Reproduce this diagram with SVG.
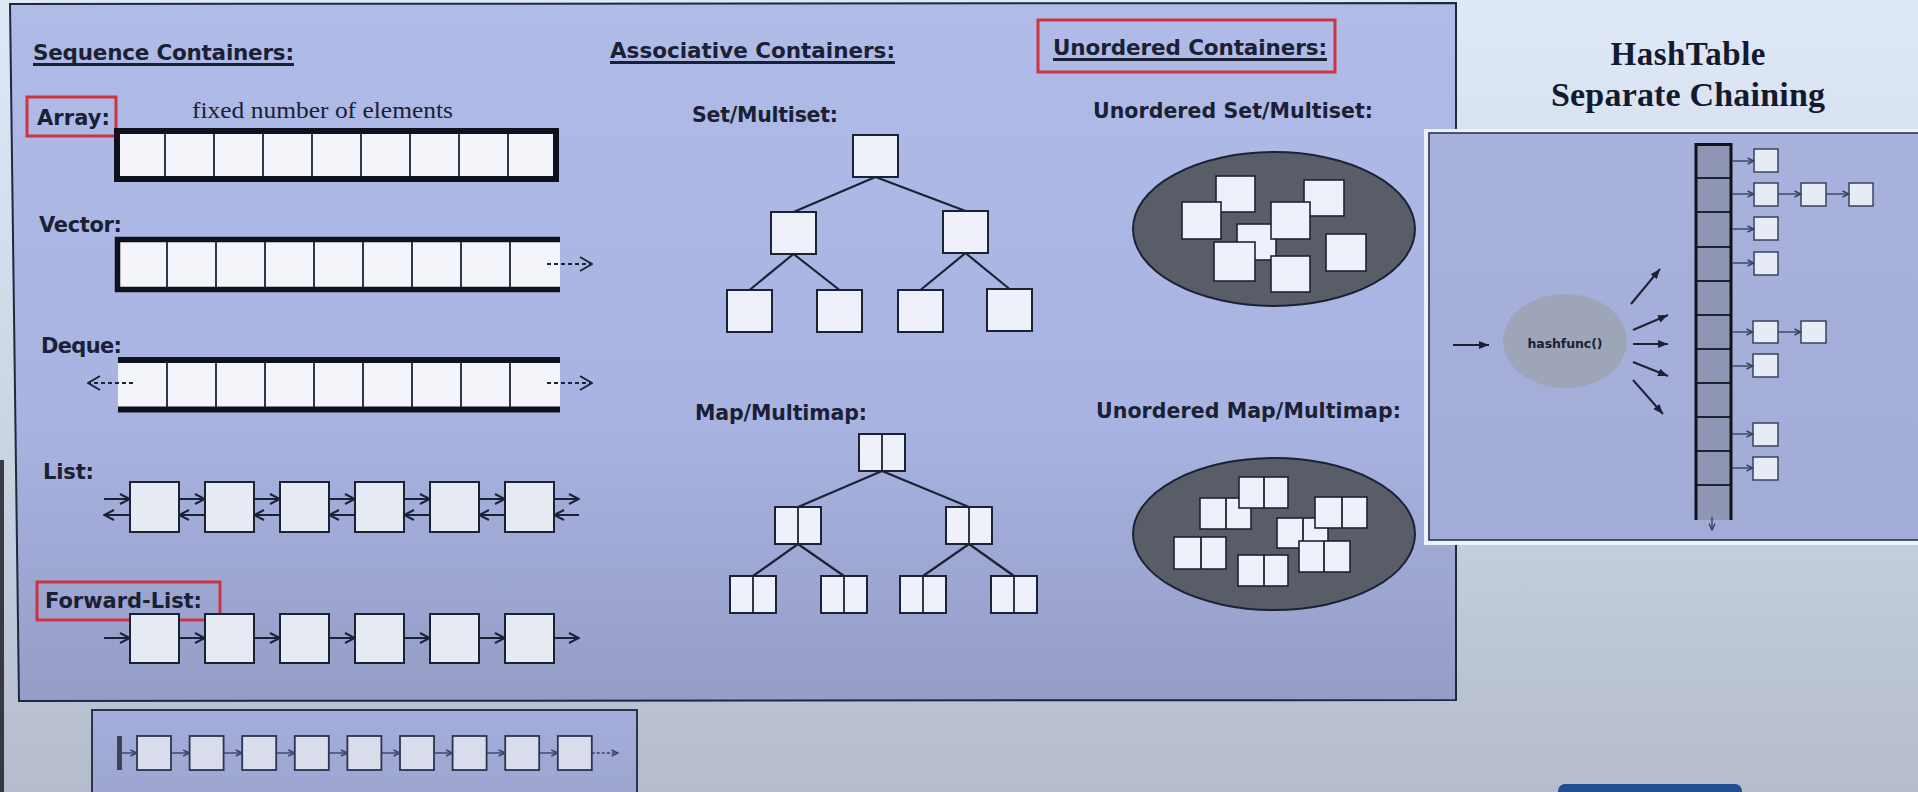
<svg xmlns="http://www.w3.org/2000/svg" width="1918" height="792" viewBox="0 0 1918 792">
<defs>
<linearGradient id="bg" x1="0" y1="0" x2="0" y2="1">
<stop offset="0" stop-color="#dfe8f7"/><stop offset="0.55" stop-color="#cbd5e2"/><stop offset="1" stop-color="#b4bccd"/>
</linearGradient>
<linearGradient id="panel" x1="0" y1="0" x2="0" y2="1">
<stop offset="0" stop-color="#b0bbe8"/><stop offset="0.6" stop-color="#a9b3e1"/><stop offset="1" stop-color="#959dc6"/>
</linearGradient>
<linearGradient id="hpanel" x1="0" y1="0" x2="0" y2="1">
<stop offset="0" stop-color="#a9b2dc"/><stop offset="1" stop-color="#a3acd6"/>
</linearGradient>
<linearGradient id="bpanel" x1="0" y1="0" x2="0" y2="1">
<stop offset="0" stop-color="#a5addb"/><stop offset="1" stop-color="#9ca4cf"/>
</linearGradient>
<marker id="open" viewBox="0 0 12 12" refX="11" refY="6" markerWidth="12" markerHeight="12" markerUnits="userSpaceOnUse" orient="auto">
<path d="M1,1 L11,6 L1,11" fill="none" stroke="#1c2236" stroke-width="2"/>
</marker>
<marker id="dopen" viewBox="0 0 14 16" refX="13" refY="8" markerWidth="14" markerHeight="16" markerUnits="userSpaceOnUse" orient="auto">
<path d="M1,1 L13,8 L1,15" fill="none" stroke="#1c2236" stroke-width="2"/>
</marker>
<marker id="tri" viewBox="0 0 10 8" refX="10" refY="4" markerWidth="10" markerHeight="8" markerUnits="userSpaceOnUse" orient="auto">
<path d="M0,0 L10,4 L0,8 z" fill="#1c2236"/>
</marker>
<marker id="small" viewBox="0 0 8 8" refX="7.5" refY="4" markerWidth="8" markerHeight="8" markerUnits="userSpaceOnUse" orient="auto">
<path d="M1,1 L7.5,4 L1,7" fill="none" stroke="#3a4260" stroke-width="1.4"/>
</marker>
</defs>
<style>
.lbl{font-family:"DejaVu Sans",Verdana,sans-serif;font-weight:bold;fill:#1b2035}
.h1{font-size:21.5px}
.h2{font-size:20.5px}
.h3{font-size:21px}
.ul{stroke:#1b2035;stroke-width:2.8}
.red{fill:none;stroke:#cd3442;stroke-width:3}
.cellbg{fill:#f3f5fa}
.div{stroke:#1e2232;stroke-width:1.8}
.thick{stroke:#0f121c;fill:none}
.ln{fill:#e6eaf3;stroke:#1c2236;stroke-width:2}
.tn{fill:#eef1f9;stroke:#1c2236;stroke-width:2}
.un{fill:#eef1f9;stroke:#1c2236;stroke-width:1.6}
.edge{stroke:#1c2236;stroke-width:2.2}
.arr{stroke:#1c2236;stroke-width:2;fill:none}
.darr{stroke:#1c2236;stroke-width:2;stroke-dasharray:4 3;fill:none}
.sarr{stroke:#3a4260;stroke-width:1.4;fill:none}
.hx{fill:#e7ebf6;stroke:#3a4260;stroke-width:1.5}
.bx{fill:#d9ddeb;stroke:#2c3350;stroke-width:1.8}
</style>

<rect width="1918" height="792" fill="url(#bg)"/>
<rect x="0" y="460" width="4" height="332" fill="#15171e" opacity="0.8"/>

<!-- main panel -->
<g id="main-panel">
<polygon points="10,4 1456,3 1456,700 19,701" fill="url(#panel)" stroke="#1f2840" stroke-width="2"/>
</g>

<!-- headings -->
<g id="seq-heading">
<text class="lbl h1" x="33" y="60" textLength="261">Sequence Containers:</text>
<line class="ul" x1="33" y1="64.5" x2="294" y2="64.5"/>
</g>
<g id="assoc-heading">
<text class="lbl h1" x="610" y="58" textLength="285">Associative Containers:</text>
<line class="ul" x1="610" y1="62.5" x2="895" y2="62.5"/>
</g>
<g id="unord-heading">
<rect class="red" x="1038" y="20" width="297" height="52"/>
<text class="lbl h1" x="1053" y="55" textLength="274">Unordered Containers:</text>
<line class="ul" x1="1053" y1="59.5" x2="1327" y2="59.5"/>
</g>

<!-- Array -->
<g id="array">
<rect class="red" x="27" y="97" width="89" height="39"/>
<text class="lbl h3" x="37" y="125" textLength="73">Array:</text>
<text x="192" y="118" font-family="Liberation Serif,Times New Roman,serif" font-size="23" fill="#1b2035" textLength="261" lengthAdjust="spacingAndGlyphs">fixed number of elements</text>
<rect class="cellbg" x="117" y="131" width="439" height="48"/>
<g class="div">
<line x1="165" y1="131" x2="165" y2="179"/><line x1="214" y1="131" x2="214" y2="179"/><line x1="263" y1="131" x2="263" y2="179"/><line x1="312" y1="131" x2="312" y2="179"/><line x1="361" y1="131" x2="361" y2="179"/><line x1="410" y1="131" x2="410" y2="179"/><line x1="459" y1="131" x2="459" y2="179"/><line x1="508" y1="131" x2="508" y2="179"/>
</g>
<rect class="thick" x="117" y="131" width="439" height="48" stroke-width="6"/>
</g>

<!-- Vector -->
<g id="vector">
<text class="lbl h3" x="39" y="232" textLength="83">Vector:</text>
<rect class="cellbg" x="118" y="240" width="442" height="49"/>
<g class="div">
<line x1="167" y1="240" x2="167" y2="289"/><line x1="216" y1="240" x2="216" y2="289"/><line x1="265" y1="240" x2="265" y2="289"/><line x1="314" y1="240" x2="314" y2="289"/><line x1="363" y1="240" x2="363" y2="289"/><line x1="412" y1="240" x2="412" y2="289"/><line x1="461" y1="240" x2="461" y2="289"/><line x1="510" y1="240" x2="510" y2="289"/>
</g>
<path class="thick" d="M560,239.5 H117.5 V289.5 H560" stroke-width="5.5"/>
</g>

<!-- Deque -->
<g id="deque">
<text class="lbl h3" x="41" y="353" textLength="81">Deque:</text>
<rect class="cellbg" x="118" y="362" width="442" height="46"/>
<g class="div">
<line x1="167" y1="362" x2="167" y2="408"/><line x1="216" y1="362" x2="216" y2="408"/><line x1="265" y1="362" x2="265" y2="408"/><line x1="314" y1="362" x2="314" y2="408"/><line x1="363" y1="362" x2="363" y2="408"/><line x1="412" y1="362" x2="412" y2="408"/><line x1="461" y1="362" x2="461" y2="408"/><line x1="510" y1="362" x2="510" y2="408"/>
</g>
<line class="thick" x1="118" y1="360" x2="560" y2="360" stroke-width="6"/>
<line class="thick" x1="118" y1="409.5" x2="560" y2="409.5" stroke-width="6"/>
</g>

<!-- List -->
<g id="list-label"><text class="lbl h3" x="43" y="479" textLength="51">List:</text></g>
<g id="list-n1"><rect class="ln" x="130" y="482" width="49" height="50"/></g>
<g id="list-n2"><rect class="ln" x="205" y="482" width="49" height="50"/></g>
<g id="list-n3"><rect class="ln" x="280" y="482" width="49" height="50"/></g>
<g id="list-n4"><rect class="ln" x="355" y="482" width="49" height="50"/></g>
<g id="list-n5"><rect class="ln" x="430" y="482" width="49" height="50"/></g>
<g id="list-n6"><rect class="ln" x="505" y="482" width="49" height="50"/></g>

<!-- Forward list -->
<g id="flist-label">
<rect class="red" x="37" y="582" width="183" height="38"/>
<text class="lbl h3" x="45" y="608" textLength="157">Forward-List:</text>
</g>
<g id="flist-n1"><rect class="ln" x="130" y="614" width="49" height="49"/></g>
<g id="flist-n2"><rect class="ln" x="205" y="614" width="49" height="49"/></g>
<g id="flist-n3"><rect class="ln" x="280" y="614" width="49" height="49"/></g>
<g id="flist-n4"><rect class="ln" x="355" y="614" width="49" height="49"/></g>
<g id="flist-n5"><rect class="ln" x="430" y="614" width="49" height="49"/></g>
<g id="flist-n6"><rect class="ln" x="505" y="614" width="49" height="49"/></g>

<!-- Set tree -->
<g id="set-label"><text class="lbl h2" x="692" y="122" textLength="146">Set/Multiset:</text></g>
<g id="set-root"><rect class="tn" x="853" y="135" width="45" height="42"/></g>
<g id="set-l"><rect class="tn" x="771" y="212" width="45" height="42"/></g>
<g id="set-r"><rect class="tn" x="943" y="211" width="45" height="42"/></g>
<g id="set-ll"><rect class="tn" x="727" y="290" width="45" height="42"/></g>
<g id="set-lr"><rect class="tn" x="817" y="290" width="45" height="42"/></g>
<g id="set-rl"><rect class="tn" x="898" y="290" width="45" height="42"/></g>
<g id="set-rr"><rect class="tn" x="987" y="289" width="45" height="42"/></g>

<!-- Map tree -->
<g id="map-label"><text class="lbl h2" x="695" y="420" textLength="172">Map/Multimap:</text></g>
<g id="map-root"><rect class="tn" x="859" y="434" width="46" height="37"/><line class="div" x1="882" y1="434" x2="882" y2="471"/></g>
<g id="map-l"><rect class="tn" x="775" y="507" width="46" height="37"/><line class="div" x1="798" y1="507" x2="798" y2="544"/></g>
<g id="map-r"><rect class="tn" x="946" y="507" width="46" height="37"/><line class="div" x1="969" y1="507" x2="969" y2="544"/></g>
<g id="map-ll"><rect class="tn" x="730" y="576" width="46" height="37"/><line class="div" x1="753" y1="576" x2="753" y2="613"/></g>
<g id="map-lr"><rect class="tn" x="821" y="576" width="46" height="37"/><line class="div" x1="844" y1="576" x2="844" y2="613"/></g>
<g id="map-rl"><rect class="tn" x="900" y="576" width="46" height="37"/><line class="div" x1="923" y1="576" x2="923" y2="613"/></g>
<g id="map-rr"><rect class="tn" x="991" y="576" width="46" height="37"/><line class="div" x1="1014" y1="576" x2="1014" y2="613"/></g>

<!-- Unordered set -->
<g id="uset-label"><text class="lbl h2" x="1093" y="118" textLength="280">Unordered Set/Multiset:</text></g>
<g id="uset">
<ellipse cx="1274" cy="229" rx="141" ry="77" fill="#595d68" stroke="#1c2236" stroke-width="2"/>
<rect class="un" x="1216" y="176" width="39" height="36"/>
<rect class="un" x="1182" y="202" width="39" height="37"/>
<rect class="un" x="1304" y="180" width="40" height="36"/>
<rect class="un" x="1237" y="224" width="39" height="36"/>
<rect class="un" x="1271" y="202" width="39" height="37"/>
<rect class="un" x="1214" y="242" width="41" height="39"/>
<rect class="un" x="1271" y="256" width="39" height="36"/>
<rect class="un" x="1326" y="234" width="40" height="37"/>
</g>

<!-- Unordered map -->
<g id="umap-label"><text class="lbl h2" x="1096" y="418" textLength="305">Unordered Map/Multimap:</text></g>
<g id="umap">
<ellipse cx="1274" cy="534" rx="141" ry="76" fill="#595d68" stroke="#1c2236" stroke-width="2"/>
<g><rect class="un" x="1200" y="498" width="51" height="31"/><line class="div" x1="1226" y1="498" x2="1226" y2="529"/></g>
<g><rect class="un" x="1239" y="477" width="49" height="31"/><line class="div" x1="1264" y1="477" x2="1264" y2="508"/></g>
<g><rect class="un" x="1277" y="518" width="51" height="30"/><line class="div" x1="1303" y1="518" x2="1303" y2="548"/></g>
<g><rect class="un" x="1315" y="497" width="52" height="31"/><line class="div" x1="1342" y1="497" x2="1342" y2="528"/></g>
<g><rect class="un" x="1299" y="541" width="51" height="31"/><line class="div" x1="1324" y1="541" x2="1324" y2="572"/></g>
<g><rect class="un" x="1174" y="537" width="52" height="32"/><line class="div" x1="1201" y1="537" x2="1201" y2="569"/></g>
<g><rect class="un" x="1238" y="555" width="50" height="31"/><line class="div" x1="1264" y1="555" x2="1264" y2="586"/></g>
</g>

<!-- Hash table panel -->
<g id="hash-title">
<text x="1688" y="65" text-anchor="middle" font-family="Liberation Serif,Times New Roman,serif" font-weight="bold" font-size="33" fill="#141a2e" textLength="155">HashTable</text>
<text x="1688" y="106" text-anchor="middle" font-family="Liberation Serif,Times New Roman,serif" font-weight="bold" font-size="34" fill="#141a2e" textLength="274">Separate Chaining</text>
</g>
<g id="hash-panel">
<rect x="1424" y="129" width="500" height="416" fill="#edf1fa"/>
<rect x="1429" y="133" width="495" height="407" fill="url(#hpanel)" stroke="#2a3452" stroke-width="1.6"/>
</g>
<g id="hashfunc">
<ellipse cx="1565" cy="341" rx="62" ry="47" fill="#9fa5b9"/>
<text class="lbl" x="1565" y="348" text-anchor="middle" font-size="12.5" textLength="75">hashfunc()</text>
</g>
<g id="buckets">
<rect x="1696" y="144" width="35" height="376" fill="#8e96b3"/>
<g class="div">
<line x1="1696" y1="178" x2="1731" y2="178"/><line x1="1696" y1="212" x2="1731" y2="212"/><line x1="1696" y1="247" x2="1731" y2="247"/><line x1="1696" y1="281" x2="1731" y2="281"/><line x1="1696" y1="315" x2="1731" y2="315"/><line x1="1696" y1="349" x2="1731" y2="349"/><line x1="1696" y1="383" x2="1731" y2="383"/><line x1="1696" y1="417" x2="1731" y2="417"/><line x1="1696" y1="451" x2="1731" y2="451"/><line x1="1696" y1="485" x2="1731" y2="485"/>
</g>
<path class="thick" d="M1696,520 V144.5 H1731 V520" stroke-width="3"/>
</g>
<g id="chain-1a"><rect class="hx" x="1754" y="149" width="24" height="23"/></g>
<g id="chain-2a"><rect class="hx" x="1754" y="183" width="24" height="23"/></g>
<g id="chain-2b"><rect class="hx" x="1801" y="183" width="25" height="23"/></g>
<g id="chain-2c"><rect class="hx" x="1849" y="183" width="24" height="23"/></g>
<g id="chain-3a"><rect class="hx" x="1754" y="217" width="24" height="23"/></g>
<g id="chain-4a"><rect class="hx" x="1754" y="252" width="24" height="23"/></g>
<g id="chain-6a"><rect class="hx" x="1753" y="321" width="25" height="22"/></g>
<g id="chain-6b"><rect class="hx" x="1801" y="321" width="25" height="22"/></g>
<g id="chain-7a"><rect class="hx" x="1753" y="354" width="25" height="23"/></g>
<g id="chain-9a"><rect class="hx" x="1753" y="423" width="25" height="23"/></g>
<g id="chain-10a"><rect class="hx" x="1753" y="457" width="25" height="23"/></g>

<!-- bottom panel -->
<g id="bottom-panel">
<rect x="92" y="710" width="545" height="95" fill="url(#bpanel)" stroke="#2a3350" stroke-width="2"/>
<rect x="117" y="736" width="5" height="34" fill="#3d4258"/>
</g>
<g id="b-n1"><rect class="bx" x="137" y="736" width="34" height="34"/></g>
<g id="b-n2"><rect class="bx" x="189.6" y="736" width="34" height="34"/></g>
<g id="b-n3"><rect class="bx" x="242.2" y="736" width="34" height="34"/></g>
<g id="b-n4"><rect class="bx" x="294.8" y="736" width="34" height="34"/></g>
<g id="b-n5"><rect class="bx" x="347.4" y="736" width="34" height="34"/></g>
<g id="b-n6"><rect class="bx" x="400" y="736" width="34" height="34"/></g>
<g id="b-n7"><rect class="bx" x="452.6" y="736" width="34" height="34"/></g>
<g id="b-n8"><rect class="bx" x="505.2" y="736" width="34" height="34"/></g>
<g id="b-n9"><rect class="bx" x="557.8" y="736" width="34" height="34"/></g>

<g id="footer-button"><rect x="1558" y="784" width="184" height="20" rx="7" fill="#1f4f8f"/></g>

<!-- connectors -->
<g id="connectors">
<line class="darr" x1="547" y1="264" x2="592" y2="264" marker-end="url(#dopen)"/>
<line class="darr" x1="547" y1="383" x2="592" y2="383" marker-end="url(#dopen)"/>
<line class="darr" x1="133" y1="383" x2="88" y2="383" marker-end="url(#dopen)"/>
<line class="arr" x1="104" y1="499" x2="130" y2="499" marker-end="url(#open)"/>
<line class="arr" x1="179" y1="499" x2="205" y2="499" marker-end="url(#open)"/>
<line class="arr" x1="254" y1="499" x2="280" y2="499" marker-end="url(#open)"/>
<line class="arr" x1="329" y1="499" x2="355" y2="499" marker-end="url(#open)"/>
<line class="arr" x1="404" y1="499" x2="430" y2="499" marker-end="url(#open)"/>
<line class="arr" x1="479" y1="499" x2="505" y2="499" marker-end="url(#open)"/>
<line class="arr" x1="554" y1="499" x2="579" y2="499" marker-end="url(#open)"/>
<line class="arr" x1="130" y1="515" x2="104" y2="515" marker-end="url(#open)"/>
<line class="arr" x1="205" y1="515" x2="179" y2="515" marker-end="url(#open)"/>
<line class="arr" x1="280" y1="515" x2="254" y2="515" marker-end="url(#open)"/>
<line class="arr" x1="355" y1="515" x2="329" y2="515" marker-end="url(#open)"/>
<line class="arr" x1="430" y1="515" x2="404" y2="515" marker-end="url(#open)"/>
<line class="arr" x1="505" y1="515" x2="479" y2="515" marker-end="url(#open)"/>
<line class="arr" x1="579" y1="515" x2="554" y2="515" marker-end="url(#open)"/>
<line class="arr" x1="104" y1="638" x2="130" y2="638" marker-end="url(#open)"/>
<line class="arr" x1="179" y1="638" x2="205" y2="638" marker-end="url(#open)"/>
<line class="arr" x1="254" y1="638" x2="280" y2="638" marker-end="url(#open)"/>
<line class="arr" x1="329" y1="638" x2="355" y2="638" marker-end="url(#open)"/>
<line class="arr" x1="404" y1="638" x2="430" y2="638" marker-end="url(#open)"/>
<line class="arr" x1="479" y1="638" x2="505" y2="638" marker-end="url(#open)"/>
<line class="arr" x1="554" y1="638" x2="579" y2="638" marker-end="url(#open)"/>
<line class="edge" x1="875.5" y1="177" x2="793.5" y2="212"/>
<line class="edge" x1="875.5" y1="177" x2="965.5" y2="211"/>
<line class="edge" x1="793.5" y1="254" x2="749.5" y2="290"/>
<line class="edge" x1="793.5" y1="254" x2="839.5" y2="290"/>
<line class="edge" x1="965.5" y1="253" x2="920.5" y2="290"/>
<line class="edge" x1="965.5" y1="253" x2="1009.5" y2="289"/>
<line class="edge" x1="882" y1="471" x2="798" y2="507"/>
<line class="edge" x1="882" y1="471" x2="969" y2="507"/>
<line class="edge" x1="798" y1="544" x2="753" y2="576"/>
<line class="edge" x1="798" y1="544" x2="844" y2="576"/>
<line class="edge" x1="969" y1="544" x2="923" y2="576"/>
<line class="edge" x1="969" y1="544" x2="1014" y2="576"/>
<line class="arr" x1="1453" y1="345" x2="1489" y2="345" marker-end="url(#tri)"/>
<line class="arr" x1="1631" y1="304" x2="1660" y2="269" marker-end="url(#tri)"/>
<line class="arr" x1="1633" y1="330" x2="1668" y2="315" marker-end="url(#tri)"/>
<line class="arr" x1="1633" y1="344" x2="1668" y2="344" marker-end="url(#tri)"/>
<line class="arr" x1="1633" y1="362" x2="1668" y2="376" marker-end="url(#tri)"/>
<line class="arr" x1="1633" y1="380" x2="1663" y2="414" marker-end="url(#tri)"/>
<line class="sarr" x1="1712" y1="517" x2="1712" y2="530" marker-end="url(#small)"/>
<line class="sarr" x1="1732" y1="161" x2="1754" y2="161" marker-end="url(#small)"/>
<line class="sarr" x1="1732" y1="194" x2="1754" y2="194" marker-end="url(#small)"/>
<line class="sarr" x1="1778" y1="194" x2="1801" y2="194" marker-end="url(#small)"/>
<line class="sarr" x1="1826" y1="194" x2="1849" y2="194" marker-end="url(#small)"/>
<line class="sarr" x1="1732" y1="229" x2="1754" y2="229" marker-end="url(#small)"/>
<line class="sarr" x1="1732" y1="263" x2="1754" y2="263" marker-end="url(#small)"/>
<line class="sarr" x1="1732" y1="332" x2="1753" y2="332" marker-end="url(#small)"/>
<line class="sarr" x1="1778" y1="332" x2="1801" y2="332" marker-end="url(#small)"/>
<line class="sarr" x1="1732" y1="366" x2="1753" y2="366" marker-end="url(#small)"/>
<line class="sarr" x1="1732" y1="434" x2="1753" y2="434" marker-end="url(#small)"/>
<line class="sarr" x1="1732" y1="468" x2="1753" y2="468" marker-end="url(#small)"/>
<line class="sarr" x1="122" y1="753" x2="137" y2="753" marker-end="url(#small)"/>
<line class="sarr" x1="171" y1="753" x2="189.6" y2="753" marker-end="url(#small)"/>
<line class="sarr" x1="223.6" y1="753" x2="242.2" y2="753" marker-end="url(#small)"/>
<line class="sarr" x1="276.2" y1="753" x2="294.8" y2="753" marker-end="url(#small)"/>
<line class="sarr" x1="328.8" y1="753" x2="347.4" y2="753" marker-end="url(#small)"/>
<line class="sarr" x1="381.4" y1="753" x2="400" y2="753" marker-end="url(#small)"/>
<line class="sarr" x1="434" y1="753" x2="452.6" y2="753" marker-end="url(#small)"/>
<line class="sarr" x1="486.6" y1="753" x2="505.2" y2="753" marker-end="url(#small)"/>
<line class="sarr" x1="539.2" y1="753" x2="557.8" y2="753" marker-end="url(#small)"/>
<line class="sarr" x1="591.8" y1="753" x2="618" y2="753" stroke-dasharray="3 2" marker-end="url(#small)"/>
</g>
</svg>
